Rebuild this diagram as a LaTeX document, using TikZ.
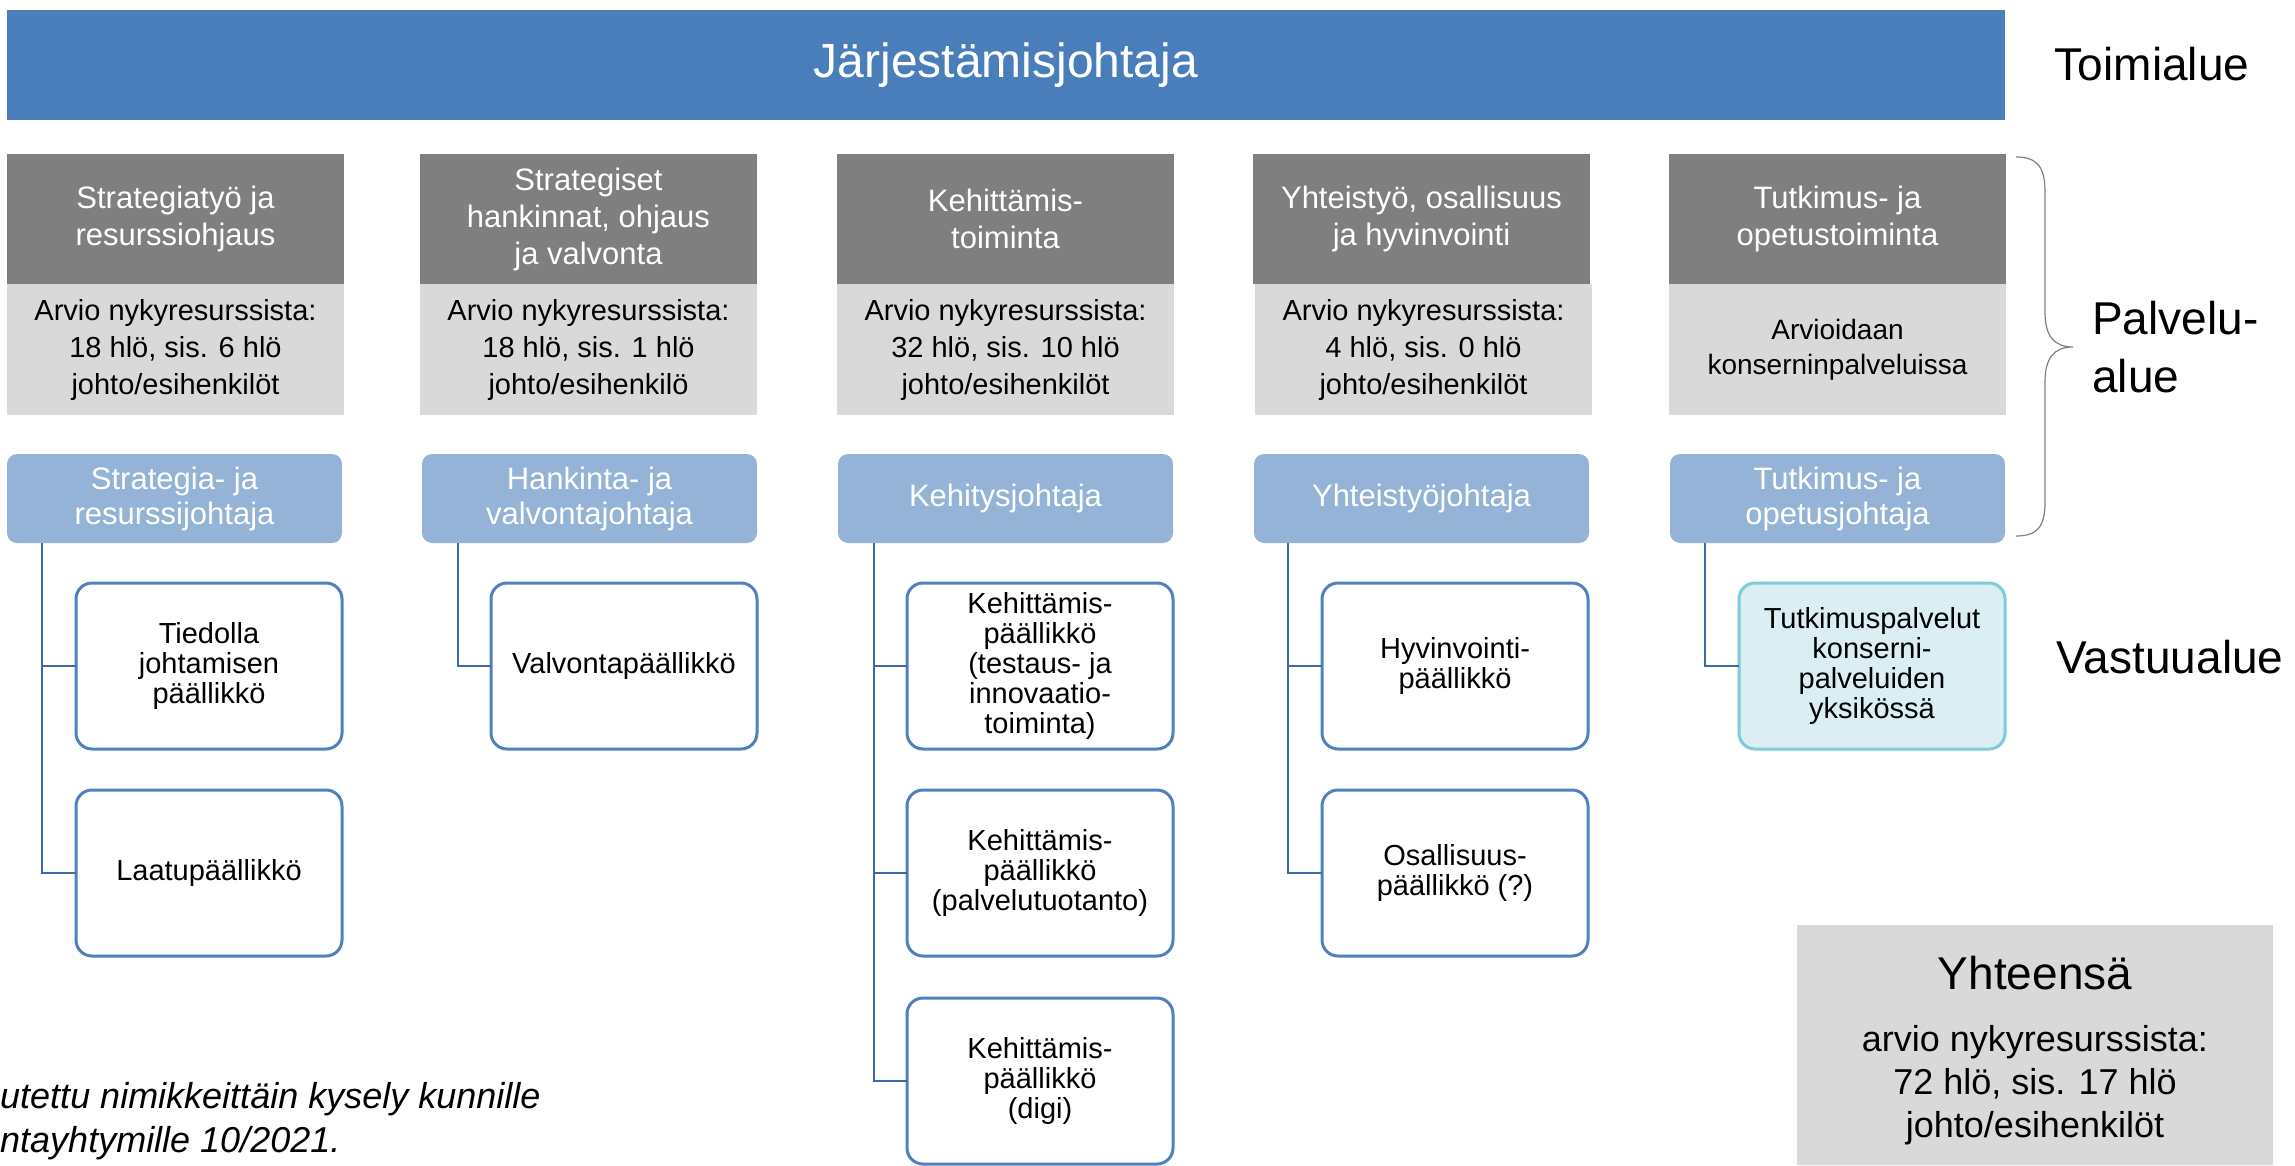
\documentclass[tikz,border=0pt]{standalone}
\usepackage{fontspec}
\setmainfont{Liberation Sans}
\definecolor{barblue}{HTML}{4A7EBB}
\definecolor{hdgray}{HTML}{7F7F7F}
\definecolor{ltgray}{HTML}{D9D9D9}
\definecolor{mgrblue}{HTML}{95B3D7}
\definecolor{unitblue}{HTML}{4F81BD}
\definecolor{linkblue}{HTML}{3E6AA8}
\definecolor{cyanfill}{HTML}{DAEEF3}
\definecolor{cyanline}{HTML}{7CCBDA}
\definecolor{bracegray}{HTML}{7F7F7F}
\begin{document}
\begin{tikzpicture}[x=1pt,y=-1pt,
	box/.style={anchor=north west,inner sep=0pt,outer sep=0pt,align=center},
	bar/.style={box,fill=barblue,text=white,minimum width=1998pt,minimum height=110pt,font=\fontsize{48}{56}\selectfont},
	head/.style={box,fill=hdgray,text=white,minimum width=337pt,minimum height=130pt,font=\fontsize{31}{37}\selectfont},
	est/.style={box,fill=ltgray,minimum width=337pt,minimum height=131pt,font=\fontsize{29}{37}\selectfont},
	mgr/.style={box,fill=mgrblue,text=white,rounded corners=10pt,minimum width=335pt,minimum height=89pt,font=\fontsize{31}{35}\selectfont},
	unit/.style={box,draw=unitblue,line width=3pt,fill=white,rounded corners=16pt,minimum width=266pt,minimum height=166pt,font=\fontsize{29}{30}\selectfont},
	link/.style={draw=linkblue,line width=2.5pt},
	big/.style={inner sep=0pt,font=\fontsize{46}{58}\selectfont}]
	\useasboundingbox (0,0) rectangle (2295,1165);
	% top level
	\node[bar] (top) at (7,10) {Järjestämisjohtaja};
	\node[big] (toimi) at (2152,64) {Toimialue};
	% service areas
	\node[head] (h1) at (7,154) {Strategiatyö ja\\resurssiohjaus};
	\node[head] (h2) at (420,154) {Strategiset\\hankinnat, ohjaus\\ja valvonta};
	\node[head] (h3) at (837,154) {Kehittämis-\\toiminta};
	\node[head] (h4) at (1253,154) {Yhteistyö, osallisuus\\ja hyvinvointi};
	\node[head] (h5) at (1669,154) {Tutkimus- ja\\opetustoiminta};
	\node[est] (e1) at (7,284) {Arvio nykyresurssista:\\18 hlö, sis. 6 hlö\\johto/esihenkilöt};
	\node[est] (e2) at (420,284) {Arvio nykyresurssista:\\18 hlö, sis. 1 hlö\\johto/esihenkilö};
	\node[est] (e3) at (837,284) {Arvio nykyresurssista:\\32 hlö, sis. 10 hlö\\johto/esihenkilöt};
	\node[est] (e4) at (1255,284) {Arvio nykyresurssista:\\4 hlö, sis. 0 hlö\\johto/esihenkilöt};
	\node[est,font=\fontsize{28}{35}\selectfont] (e5) at (1669,284) {Arvioidaan\\konserninpalveluissa};
	\node[mgr] (m1) at (7,454) {Strategia- ja\\resurssijohtaja};
	\node[mgr] (m2) at (422,454) {Hankinta- ja\\valvontajohtaja};
	\node[mgr] (m3) at (838,454) {Kehitysjohtaja};
	\node[mgr] (m4) at (1254,454) {Yhteistyöjohtaja};
	\node[mgr] (m5) at (1670,454) {Tutkimus- ja\\opetusjohtaja};
	\draw[bracegray,line width=1.2pt] (2016,157) .. controls (2038,157) and (2045,168) .. (2045,192)
		-- (2045,312) .. controls (2045,336) and (2054,347) .. (2073,347)
		.. controls (2054,347) and (2045,358) .. (2045,382)
		-- (2045,502) .. controls (2045,526) and (2038,536) .. (2016,536);
	\node[big,anchor=west,align=left] (palvelu) at (2092,347) {Palvelu-\\alue};
	% areas of responsibility
	\node[unit] (u11) at (76,583) {Tiedolla\\johtamisen\\päällikkö};
	\node[unit] (u12) at (76,790) {Laatupäällikkö};
	\node[unit] (u21) at (491,583) {Valvontapäällikkö};
	\node[unit] (u31) at (907,583) {Kehittämis-\\päällikkö\\(testaus- ja\\innovaatio-\\toiminta)};
	\node[unit] (u32) at (907,790) {Kehittämis-\\päällikkö\\(palvelutuotanto)};
	\node[unit] (u33) at (907,998) {Kehittämis-\\päällikkö\\(digi)};
	\node[unit] (u41) at (1322,583) {Hyvinvointi-\\päällikkö};
	\node[unit] (u42) at (1322,790) {Osallisuus-\\päällikkö (?)};
	\node[unit,draw=cyanline,fill=cyanfill] (u51) at (1739,583) {Tutkimuspalvelut\\konserni-\\palveluiden\\yksikössä};
	\node[big] (vastuu) at (2170,657) {Vastuualue};
	\draw[link] ([xshift=35pt]m1.south west) |- (u11.west);
	\draw[link] ([xshift=35pt]m1.south west) |- (u12.west);
	\draw[link] ([xshift=36pt]m2.south west) |- (u21.west);
	\draw[link] ([xshift=36pt]m3.south west) |- (u31.west);
	\draw[link] ([xshift=36pt]m3.south west) |- (u32.west);
	\draw[link] ([xshift=36pt]m3.south west) |- (u33.west);
	\draw[link] ([xshift=34pt]m4.south west) |- (u41.west);
	\draw[link] ([xshift=34pt]m4.south west) |- (u42.west);
	\draw[link] ([xshift=35pt]m5.south west) |- (u51.west);
	% total
	\node[box,fill=ltgray,minimum width=476pt,minimum height=240pt] (sum) at (1797,925) {};
	\node[big] (sumtitle) at (2035,973) {Yhteensä};
	\node[align=center,inner sep=0pt,font=\fontsize{36}{43}\selectfont] (sumtext) at (2035,1085) {arvio nykyresurssista:\\72 hlö, sis. 17 hlö\\johto/esihenkilöt};
	\node[anchor=north west,align=left,inner sep=0pt,font=\itshape\fontsize{36}{44}\selectfont] (note) at (0,1082) {utettu nimikkeittäin kysely kunnille\\ntayhtymille 10/2021.};
\end{tikzpicture}
\end{document}
